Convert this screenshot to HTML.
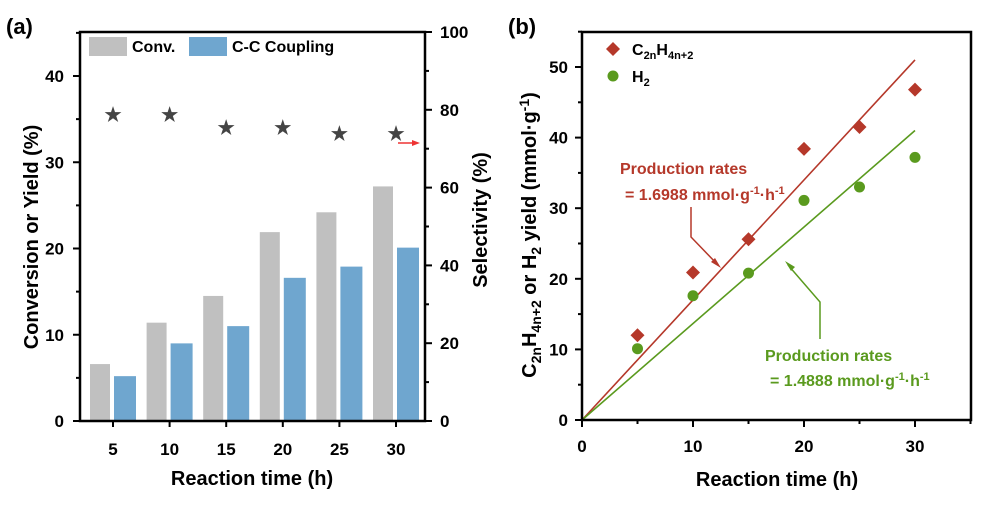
<!DOCTYPE html>
<html><head><meta charset="utf-8">
<style>
body{margin:0;background:#fff;}
svg{display:block;font-family:"Liberation Sans",Arial,sans-serif;font-weight:bold;}
</style></head>
<body>
<svg id="s" width="991" height="505" viewBox="0 0 991 505">
<text x="6" y="34" font-size="22">(a)</text>
<text x="508" y="34" font-size="22">(b)</text>
</svg>
<script>
const times=[5,10,15,20,25,30];
const convValues=[6.6,11.4,14.5,21.9,24.2,27.2];
const couplingValues=[5.2,9.0,11.0,16.6,17.9,20.1];
const selectivityValues=[78.7,78.7,75.3,75.3,73.8,73.8];
const leftTicks=[0,10,20,30,40];
const rightTicks=[0,20,40,60,80,100];
const alkaneYield=[12.0,20.9,25.6,38.4,41.5,46.8];
const h2Yield=[10.1,17.6,20.8,31.1,33.0,37.2];
const fitEnds=[51.0,41.0];
const bxTicks=[0,10,20,30];
const byTicks=[0,10,20,30,40,50];

const svg=document.getElementById('s');
const NS='http://www.w3.org/2000/svg';
function mk(tag,at,parent){const e=document.createElementNS(NS,tag);for(const k in at)e.setAttribute(k,at[k]);(parent||svg).appendChild(e);return e;}
function txt(x,y,s,at){const e=mk('text',Object.assign({x:x,y:y},at||{}));e.textContent=s;return e;}

// ---- Panel A ----
const aL=80,aR=425,aT=32,aB=421;
const xa=t=>113+(t-5)*(396-113)/25;
const ya=v=>aB-v*8.625;
const yr=v=>aB-v*(aB-aT)/100;
convValues.forEach((v,i)=>{
 const r=mk('rect',{x:xa(times[i])-23,y:ya(v),width:20,height:aB-ya(v),fill:'#c0c0c0'});
 
 
});
couplingValues.forEach((v,i)=>{
 const r=mk('rect',{x:xa(times[i])+1,y:ya(v),width:22,height:aB-ya(v),fill:'#6fa6cf'});
 
 
});
selectivityValues.forEach((v,i)=>{
 const s=txt(xa(times[i]),yr(v)+6,'★',{'font-size':19,'text-anchor':'middle',fill:'#444'});
 
 
});
mk('path',{d:`M${aL} ${aT}H${aR}V${aB}H${aL}Z`,fill:'none',stroke:'#000','stroke-width':2.5});
for(let v=0;v<=45;v+=5){const y=ya(v);mk('line',{x1:aL,x2:aL-(v%10?4:7),y1:y,y2:y,stroke:'#000','stroke-width':2});}
leftTicks.forEach(v=>{const t=txt(64,ya(v)+6,v,{'font-size':17,'text-anchor':'end'});});
for(let v=0;v<=100;v+=10){const y=yr(v);mk('line',{x1:aR,x2:aR+(v%20?4:7),y1:y,y2:y,stroke:'#000','stroke-width':2});}
rightTicks.forEach(v=>{const t=txt(440,yr(v)+6,v,{'font-size':17});});
times.forEach(t=>{mk('line',{x1:xa(t),x2:xa(t),y1:aB,y2:aB+6,stroke:'#000','stroke-width':2});
 const e=txt(xa(t),455,t,{'font-size':17,'text-anchor':'middle'});});
txt(252,485,'Reaction time (h)',{'font-size':20,'text-anchor':'middle',});
txt(0,0,'Conversion or Yield (%)',{'font-size':20,'text-anchor':'middle',transform:'translate(38 237) rotate(-90)',});
txt(0,0,'Selectivity (%)',{'font-size':20,'text-anchor':'middle',transform:'translate(487 220) rotate(-90)',});
mk('line',{x1:398,x2:416,y1:143,y2:143,stroke:'#e33','stroke-width':1.5});
mk('path',{d:'M412 140L420 143L412 146Z',fill:'#e33',});
mk('rect',{x:89,y:37,width:38,height:19,fill:'#c0c0c0',});
txt(132,52,'Conv.',{'font-size':16,});
mk('rect',{x:189,y:37,width:38,height:19,fill:'#6fa6cf',});
txt(232,52,'C-C Coupling',{'font-size':16,});

// ---- Panel B ----
const bL=582,bR=971,bT=32,bB=420;
const xb=t=>bL+t*(915-bL)/30;
const yb=v=>bB-v*(bB-67)/50;
const red='#b5382a',green='#5a9a1e';
mk('line',{x1:xb(0),y1:yb(0),x2:xb(30),y2:yb(fitEnds[0]),stroke:red,'stroke-width':1.6,});
mk('line',{x1:xb(0),y1:yb(0),x2:xb(30),y2:yb(fitEnds[1]),stroke:green,'stroke-width':1.6,});
alkaneYield.forEach((v,i)=>{const x=xb(times[i]),y=yb(v);
 const p=mk('path',{d:`M${x} ${y-7}L${x+7} ${y}L${x} ${y+7}L${x-7} ${y}Z`,fill:red});
 });
h2Yield.forEach((v,i)=>{const c=mk('circle',{cx:xb(times[i]),cy:yb(v),r:5.5,fill:green});
 });
mk('path',{d:`M${bL} ${bT}H${bR}V${bB}H${bL}Z`,fill:'none',stroke:'#000','stroke-width':2.5});
for(let v=0;v<=55;v+=5){const y=yb(v);mk('line',{x1:bL,x2:bL-(v%10?4:7),y1:y,y2:y,stroke:'#000','stroke-width':2});}
byTicks.forEach(v=>{const t=txt(568,yb(v)+6,v,{'font-size':17,'text-anchor':'end'});});
for(let v=0;v<=35;v+=5){const x=xb(v);mk('line',{x1:x,x2:x,y1:bB,y2:bB+(v%10?4:7),stroke:'#000','stroke-width':2});}
bxTicks.forEach(v=>{const t=txt(xb(v),452,v,{'font-size':17,'text-anchor':'middle'});});
txt(777,486,'Reaction time (h)',{'font-size':20,'text-anchor':'middle',});
const yt=txt(0,0,'',{'font-size':20,'text-anchor':'middle',transform:'translate(536 235) rotate(-90)',});
yt.innerHTML='C<tspan font-size="14" dy="5">2n</tspan><tspan dy="-5">H</tspan><tspan font-size="14" dy="5">4n+2</tspan><tspan dy="-5"> or H</tspan><tspan font-size="14" dy="5">2</tspan><tspan dy="-5"> yield (mmol·g</tspan><tspan font-size="14" dy="-7">-1</tspan><tspan dy="7">)</tspan>';
mk('path',{d:'M613 42L620 49L613 56L606 49Z',fill:red,});
const l1=txt(632,55,'',{'font-size':16,});
l1.innerHTML='C<tspan font-size="11" dy="4">2n</tspan><tspan dy="-4">H</tspan><tspan font-size="11" dy="4">4n+2</tspan>';
mk('circle',{cx:613,cy:76,r:5.5,fill:green,});
const l2=txt(632,82,'',{'font-size':16,});
l2.innerHTML='H<tspan font-size="11" dy="4">2</tspan>';
txt(620,174,'Production rates',{'font-size':16,fill:red,});
const r1=txt(625,200,'',{'font-size':16,fill:red,});
r1.innerHTML='= 1.6988 mmol·g<tspan font-size="11" dy="-6">-1</tspan><tspan dy="6">·h</tspan><tspan font-size="11" dy="-6">-1</tspan>';
mk('path',{d:'M691 207V237L718 265',fill:'none',stroke:red,'stroke-width':1.5});
mk('path',{d:'M721 268L711 262L715 258Z',fill:red,});
txt(765,361,'Production rates',{'font-size':16,fill:green,});
const r2=txt(770,386,'',{'font-size':16,fill:green,});
r2.innerHTML='= 1.4888 mmol·g<tspan font-size="11" dy="-6">-1</tspan><tspan dy="6">·h</tspan><tspan font-size="11" dy="-6">-1</tspan>';
mk('path',{d:'M820 339V302L788 265',fill:'none',stroke:green,'stroke-width':1.5});
mk('path',{d:'M785 261L795 267L791 271Z',fill:green,});
</script>
</body></html>
